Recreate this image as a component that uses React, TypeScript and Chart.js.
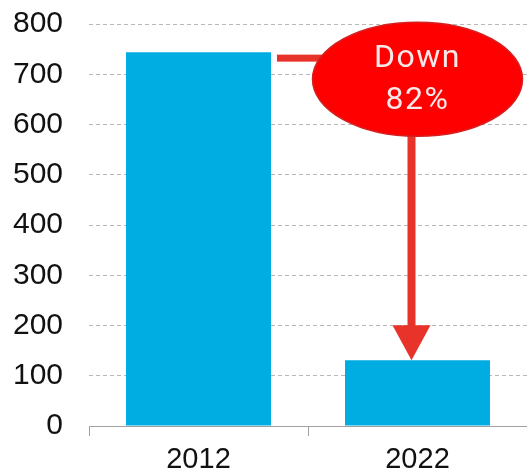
import React, { useEffect, useRef } from "react";
import { Chart, registerables } from "chart.js";

Chart.register(...registerables);

const years = ["2012", "2022"];
const values = [744, 131];
const yTicks = [0, 100, 200, 300, 400, 500, 600, 700, 800];
const calloutLines = ["Down", "82%"];
const calloutValue = 690; // y value at which the callout bubble is centred

const BAR_BLUE = "#00ADE3";
const ARROW_RED = "#E8332A";
const BUBBLE_RED = "#FF0000";
const FONT = "'Liberation Sans', Arial, sans-serif";

const calloutPlugin = {
  id: "callout",
  afterDatasetsDraw(chart: any) {
    const { ctx } = chart;
    const yScale = chart.scales.y;
    const bars = chart.getDatasetMeta(0).data;
    const b1 = bars[0];
    const b2 = bars[1];
    const cx = b2.x;
    const cy = yScale.getPixelForValue(calloutValue);
    const rx = 105;
    const ry = 57;

    ctx.save();
    // connector from the first bar's top to the bubble
    ctx.fillStyle = ARROW_RED;
    const lineY = b1.y + 6;
    ctx.fillRect(b1.x + b1.width / 2 + 6, lineY - 3.5, cx - (b1.x + b1.width / 2 + 6), 7);

    // arrow down to the second bar's top
    const ax = b2.x - 6;
    const headH = 35;
    const headW = 19;
    const tipY = b2.y;
    ctx.fillRect(ax - 4, cy, 8, tipY - headH - cy + 1);
    ctx.beginPath();
    ctx.moveTo(ax - headW, tipY - headH);
    ctx.lineTo(ax + headW, tipY - headH);
    ctx.lineTo(ax, tipY);
    ctx.closePath();
    ctx.fill();

    // bubble
    ctx.beginPath();
    ctx.ellipse(cx, cy, rx, ry, 0, 0, Math.PI * 2);
    ctx.fillStyle = BUBBLE_RED;
    ctx.fill();
    ctx.lineWidth = 1.5;
    ctx.strokeStyle = "#D42020";
    ctx.stroke();

    ctx.fillStyle = "#F8E8E8";
    ctx.font = "32px Roboto, 'Liberation Sans', sans-serif";
    ctx.textAlign = "center";
    ctx.textBaseline = "middle";
    ctx.letterSpacing = "1.5px";
    ctx.fillText(calloutLines[0], cx, cy - 20);
    ctx.fillText(calloutLines[1], cx, cy + 22);
    ctx.restore();
  },
};

export default function App() {
  const ref = useRef<HTMLCanvasElement>(null);

  useEffect(() => {
    document.body.style.margin = "0";
    const chart = new Chart(ref.current!, {
      type: "bar",
      data: {
        labels: years,
        datasets: [
          {
            data: values,
            backgroundColor: BAR_BLUE,
            barPercentage: 0.662,
            categoryPercentage: 1,
          },
        ],
      },
      options: {
        responsive: false,
        animation: false,
        layout: { padding: { top: 24, right: 0, left: 0, bottom: 0 } },
        plugins: { legend: { display: false }, tooltip: { enabled: false } },
        scales: {
          x: {
            grid: {
              offset: true,
              drawOnChartArea: false,
              drawTicks: true,
              tickLength: 10,
              color: "#A0A0A0",
            },
            border: { display: true, color: "#A0A0A0", width: 1 },
            ticks: { color: "#111", font: { size: 29, family: FONT }, padding: 7 },
            afterFit: (s: any) => {
              s.height = 48;
              s.paddingLeft = 0;
              s.paddingRight = 0;
            },
          },
          y: {
            min: 0,
            max: 800,
            afterBuildTicks: (s: any) => {
              s.ticks = yTicks.map((v) => ({ value: v }));
            },
            grid: {
              drawTicks: false,
              color: "#B8B8B8",
              lineWidth: 1,
            },
            border: { display: false, dash: [4, 3] },
            ticks: { color: "#111", font: { size: 30, family: FONT }, padding: 26 },
            afterFit: (s: any) => {
              s.width = 89;
              s.paddingTop = 0;
              s.paddingBottom = 0;
            },
          },
        },
      },
      plugins: [calloutPlugin],
    });
    return () => chart.destroy();
  }, []);

  return (
    <div style={{ position: "absolute", left: 0, top: 0, width: 527, height: 474 }}>
      <canvas ref={ref} width={527} height={474} />
    </div>
  );
}
